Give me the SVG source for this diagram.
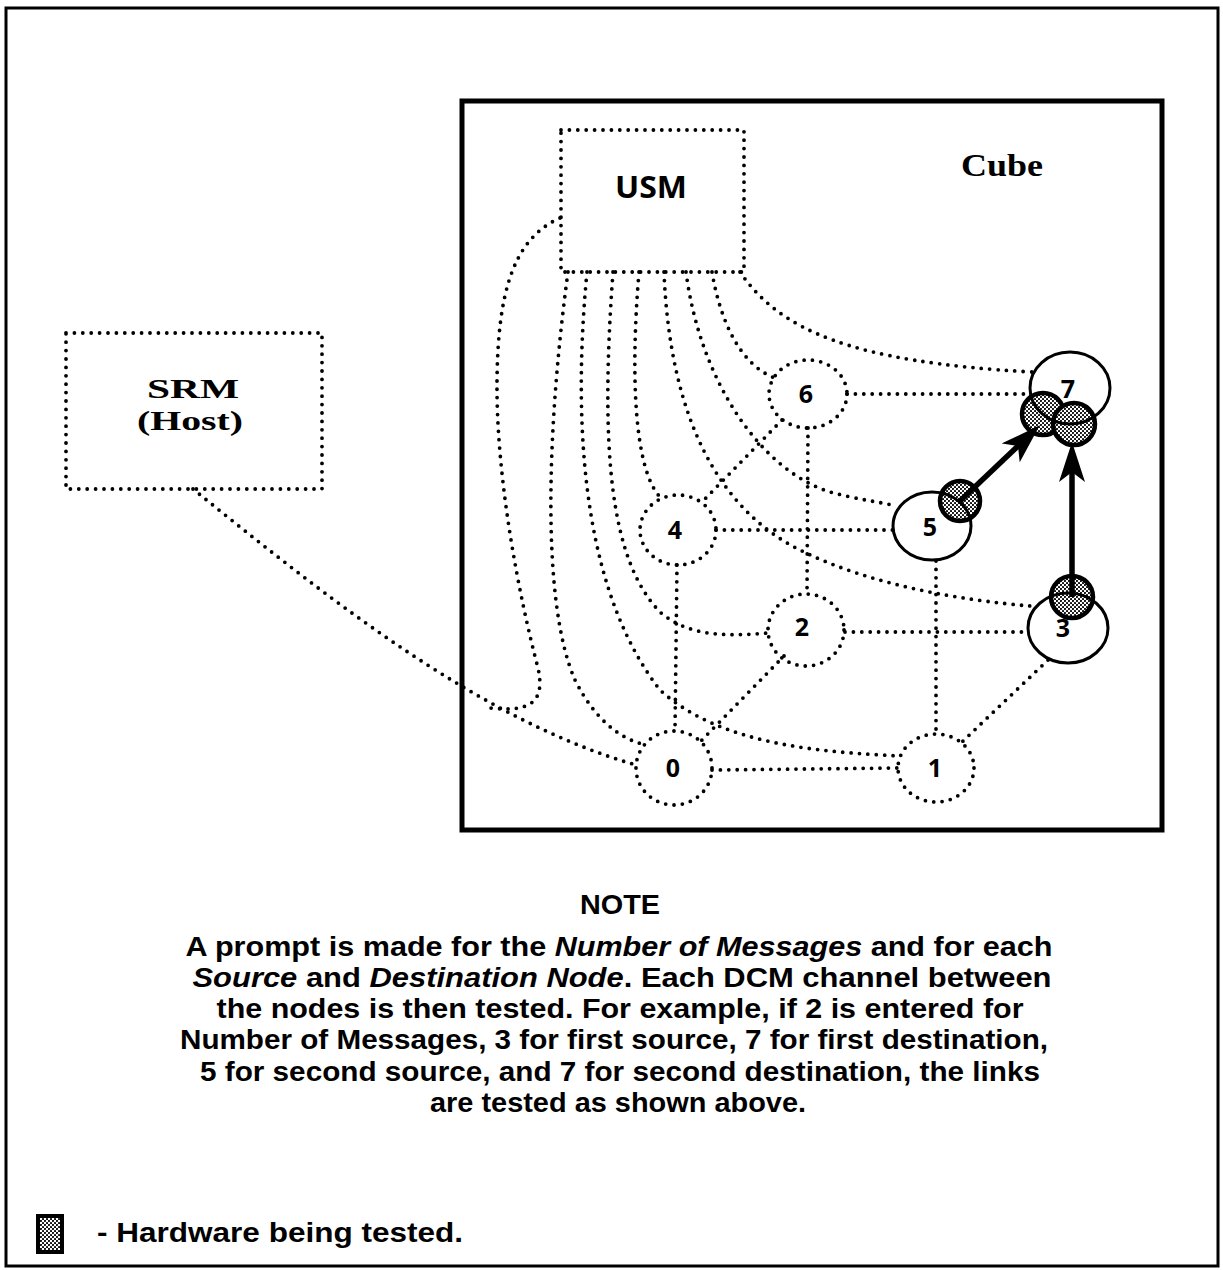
<svg xmlns="http://www.w3.org/2000/svg" width="1223" height="1270" viewBox="0 0 1223 1270">
<defs>
<pattern id="stip" width="4" height="4" patternUnits="userSpaceOnUse">
<rect width="4" height="4" fill="#fff"/>
<circle cx="1" cy="1" r="1.05" fill="#000"/>
<circle cx="3" cy="3" r="1.05" fill="#000"/>
</pattern>
<marker id="ah" viewBox="0 0 40 26" refX="10" refY="13" markerWidth="40" markerHeight="26" markerUnits="userSpaceOnUse" orient="auto">
<path d="M0,0 L40,13 L0,26 L10,13 Z" fill="#000"/>
</marker>
</defs>
<style>
.dot{fill:none;stroke:#000;stroke-width:3.8;stroke-linecap:round;stroke-dasharray:0 8.4}
.solid{fill:none;stroke:#000;stroke-width:3}
.hw{fill:url(#stip);stroke:#000;stroke-width:4.5}
.arrow{stroke:#000;stroke-width:5.5;fill:none}
.serif{font-family:"Liberation Serif","DejaVu Serif",serif;font-weight:bold;fill:#000}
.sans{font-family:"Open Sans","Noto Sans","DejaVu Sans",sans-serif;font-weight:bold;fill:#000}
.note{font-family:"Liberation Sans","Open Sans",sans-serif;font-weight:bold;font-size:27px;text-anchor:middle;fill:#000}
.num{font-family:"Open Sans","Noto Sans","DejaVu Sans",sans-serif;font-weight:bold;font-size:25px;text-anchor:middle;fill:#000}
</style>
<rect width="1223" height="1270" fill="#fff"/>
<rect x="6" y="8" width="1212" height="1258" fill="none" stroke="#000" stroke-width="3"/>

<g id="cube">
<rect x="462" y="101" width="700" height="729" fill="none" stroke="#000" stroke-width="5"/>
<text class="serif" x="1002" y="176" font-size="31" text-anchor="middle" textLength="82" lengthAdjust="spacingAndGlyphs">Cube</text>
</g>

<g id="connectors">
<path class="dot" d="M193,489 C330,600 480,720 636,765"/>
<path class="dot" d="M560,218 C510,240 498,300 497,380 C496,480 520,600 538,668 C546,704 528,712 490,708"/>
<path class="dot" d="M568,272 C548,420 540,600 575,680 C595,720 620,738 642,744"/>
<path class="dot" d="M587,272 C570,450 590,600 660,690 C720,745 820,752 900,756"/>
<path class="dot" d="M613,272 C600,450 610,560 660,612 C690,638 730,636 768,633"/>
<path class="dot" d="M639,272 C630,380 635,470 660,497"/>
<path class="dot" d="M664,272 C670,420 720,510 800,550 C870,585 960,600 1030,606"/>
<path class="dot" d="M686,272 C700,380 760,470 830,492 C860,500 880,502 897,506"/>
<path class="dot" d="M712,272 C720,320 740,365 775,378"/>
<path class="dot" d="M740,272 C780,330 850,362 1032,372"/>
<path class="dot" d="M847,394 L1031,394"/>
<path class="dot" d="M808,428 L807,594"/>
<path class="dot" d="M782,420 L700,504"/>
<path class="dot" d="M716,530 L893,530"/>
<path class="dot" d="M677,565 L675,731"/>
<path class="dot" d="M845,632 L1028,632"/>
<path class="dot" d="M784,656 L700,742"/>
<path class="dot" d="M936,561 L936,733"/>
<path class="dot" d="M1048,660 L962,742"/>
<path class="dot" d="M712,770 L898,768"/>
</g>

<g id="srm">
<rect class="dot" x="66" y="333" width="256" height="156"/>
<text class="serif" x="193" y="398" font-size="28" text-anchor="middle" textLength="92" lengthAdjust="spacingAndGlyphs">SRM</text>
<text class="serif" x="190" y="430" font-size="28" text-anchor="middle" textLength="106" lengthAdjust="spacingAndGlyphs">(Host)</text>
</g>

<g id="usm">
<rect class="dot" x="561" y="130" width="183" height="142"/>
<text class="sans" x="651" y="198" font-size="31" text-anchor="middle" textLength="72" lengthAdjust="spacingAndGlyphs">USM</text>
</g>

<g id="node6"><ellipse class="dot" cx="808" cy="394" rx="39" ry="34"/><text class="num" x="806" y="403">6</text></g>
<g id="node4"><ellipse class="dot" cx="678" cy="530" rx="38" ry="35"/><text class="num" x="675" y="539">4</text></g>
<g id="node2"><ellipse class="dot" cx="806" cy="630" rx="38" ry="36"/><text class="num" x="802" y="636">2</text></g>
<g id="node0"><ellipse class="dot" cx="674" cy="768" rx="38" ry="37"/><text class="num" x="673" y="777">0</text></g>
<g id="node1"><ellipse class="dot" cx="936" cy="768" rx="38" ry="34"/><text class="num" x="935" y="777">1</text></g>

<g id="hardware">
<circle class="hw" cx="960" cy="501" r="20"/>
<circle class="hw" cx="1043" cy="414" r="21"/>
<circle class="hw" cx="1074" cy="424" r="21"/>
<circle class="hw" cx="1072" cy="597" r="21"/>
</g>

<g id="node5"><ellipse class="solid" cx="932" cy="526" rx="39" ry="34"/><text class="num" x="930" y="536">5</text></g>
<g id="node7"><ellipse class="solid" cx="1070" cy="388" rx="40" ry="36"/><text class="num" x="1068" y="398" font-size="31">7</text></g>
<g id="node3"><ellipse class="solid" cx="1068" cy="628" rx="40" ry="35"/><text class="num" x="1063" y="637" font-size="29">3</text></g>

<g id="arrows">
<line class="arrow" x1="1072" y1="597" x2="1072" y2="472" marker-end="url(#ah)"/>
<line class="arrow" x1="960" y1="501" x2="1018" y2="446" marker-end="url(#ah)"/>
</g>

<g id="note">
<text class="note" x="620" y="914" textLength="80" lengthAdjust="spacingAndGlyphs">NOTE</text>
<text class="note" x="619" y="956" textLength="867" lengthAdjust="spacingAndGlyphs">A prompt is made for the <tspan font-style="italic">Number of Messages</tspan> and for each</text>
<text class="note" x="622" y="987" textLength="859" lengthAdjust="spacingAndGlyphs"><tspan font-style="italic">Source</tspan> and <tspan font-style="italic">Destination Node</tspan>.  Each DCM channel between</text>
<text class="note" x="620" y="1018" textLength="807" lengthAdjust="spacingAndGlyphs">the nodes is then tested.  For example, if 2 is entered for</text>
<text class="note" x="614" y="1049" textLength="868" lengthAdjust="spacingAndGlyphs">Number of Messages, 3 for first source, 7 for first destination,</text>
<text class="note" x="620" y="1081" textLength="840" lengthAdjust="spacingAndGlyphs">5 for second source, and 7 for second destination, the links</text>
<text class="note" x="618" y="1112" textLength="376" lengthAdjust="spacingAndGlyphs">are tested as shown above.</text>
</g>

<g id="legend">
<rect x="38" y="1216" width="24" height="36" fill="url(#stip)" stroke="#000" stroke-width="4"/>
<text class="note" x="97" y="1242" style="text-anchor:start" textLength="366" lengthAdjust="spacingAndGlyphs">- Hardware being tested.</text>
</g>
</svg>
